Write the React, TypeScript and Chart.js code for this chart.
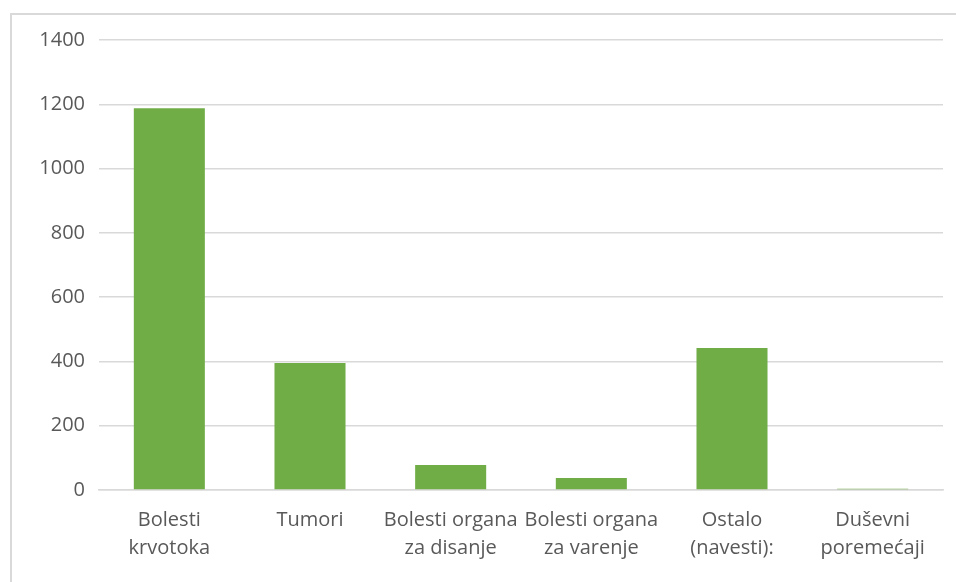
import React, { useEffect, useRef } from "react";
import { Chart, registerables } from "chart.js";

Chart.register(...registerables);

const categories: string[][] = [
  ["Bolesti", "krvotoka"],
  ["Tumori"],
  ["Bolesti organa", "za disanje"],
  ["Bolesti organa", "za varenje"],
  ["Ostalo", "(navesti):"],
  ["Duševni", "poremećaji"],
];
const values: number[] = [1188, 395, 78, 37, 442, 4];
const yMin = 0;
const yMax = 1400;
const yStep = 200;

export default function App() {
  const ref = useRef<HTMLCanvasElement | null>(null);

  useEffect(() => {
    document.body.style.margin = "0";
    if (!ref.current) return;
    const font = { family: "'Open Sans', sans-serif", size: 20, lineHeight: 1.4 };
    const chart = new Chart(ref.current, {
      type: "bar",
      data: {
        labels: categories as any,
        datasets: [
          {
            data: values,
            backgroundColor: "#70AD47",
            borderWidth: 0,
            barPercentage: 1,
            categoryPercentage: 0.505,
          },
        ],
      },
      options: {
        animation: false,
        responsive: false,
        maintainAspectRatio: false,
        layout: { padding: { top: 40, right: 13, bottom: 0, left: 0 } },
        plugins: { legend: { display: false }, tooltip: { enabled: false } },
        scales: {
          x: {
            grid: { display: false, drawTicks: false },
            border: { display: true, color: "#d9d9d9", width: 1.5 },
            ticks: {
              color: "#595959",
              font,
              maxRotation: 0,
              autoSkip: false,
              padding: 16,
            },
            afterFit: (s: any) => {
              s.height = 92;
            },
          },
          y: {
            min: yMin,
            max: yMax,
            grid: { color: "#d9d9d9", lineWidth: 1.5, drawTicks: false },
            border: { display: false },
            ticks: {
              stepSize: yStep,
              color: "#595959",
              font,
              padding: 14,
              callback: (v: any) => String(v),
            },
            afterFit: (s: any) => {
              s.width = 99;
            },
          },
        },
      },
    });
    return () => chart.destroy();
  }, []);

  return (
    <div style={{ position: "relative", width: 956, height: 582, background: "#fff", overflow: "hidden" }}>
      <div
        style={{
          position: "absolute",
          left: 10,
          top: 13,
          width: 960,
          height: 600,
          borderLeft: "2px solid #d9d9d9",
          borderTop: "2px solid #d9d9d9",
          boxSizing: "border-box",
        }}
      />
      <canvas ref={ref} width={956} height={582} style={{ position: "absolute", left: 0, top: 0 }} />
    </div>
  );
}
